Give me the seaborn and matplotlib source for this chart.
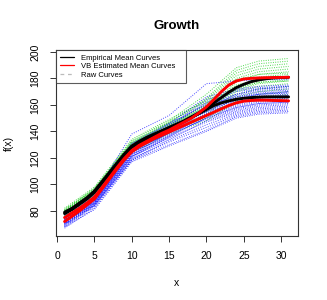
import numpy as np
import pandas as pd
import matplotlib
matplotlib.use("Agg")
import matplotlib.pyplot as plt
from matplotlib.lines import Line2D
import seaborn as sns

# ---------------------------------------------------------------------------
# Data
# ---------------------------------------------------------------------------

x_mean = list(range(1, 32))

emp_mean_1 = [79, 82, 86, 90, 95, 102, 109, 116, 123, 129, 132.5, 135.5, 138, 140.5, 143,
              145.5, 148, 151, 154, 157.5, 161.5, 165.5, 169.5, 173, 175.5, 177.5, 178.8,
              179.7, 180.3, 180.6, 180.8]
emp_mean_2 = [78, 81, 85, 89, 94, 101, 108, 115, 122, 128, 131.5, 134.5, 137.5, 140, 142.5,
              145, 147.5, 150.5, 153.5, 156.5, 159.5, 161.5, 163, 164.2, 165, 165.5, 165.8,
              166, 166, 166, 166]
vb_mean_1 = [75, 78.5, 82, 86, 90.5, 97.5, 105, 112.5, 119.5, 125.5, 129.5, 132.5, 135.5,
             138.5, 141, 144, 147, 150, 154, 158.5, 164, 170, 175, 178, 179.5, 180, 180.3,
             180.5, 180.6, 180.7, 180.8]
vb_mean_2 = [72, 76, 80, 84.5, 89, 96.5, 104, 111.5, 118.5, 124.5, 128.5, 131.5, 134.5, 137,
             139.5, 142, 144.5, 147, 149.5, 152, 154.5, 157, 159.5, 161.5, 162.8, 163.3,
             163.5, 163.5, 163.3, 163.2, 163]

x_raw = [1, 5, 10, 15, 20, 24, 27, 31]

raw_green = [
    [80, 96, 133, 148, 168, 188, 193, 195],
    [78, 94, 130, 146, 165, 186, 191, 193],
    [82, 98, 134, 149, 163, 182, 187, 189],
    [79, 95, 131, 145, 160, 180, 185, 187],
    [77, 93, 128, 143, 158, 177, 183, 185],
    [81, 97, 132, 147, 162, 178, 181, 183],
    [78, 94, 129, 144, 159, 175, 179, 181],
    [76, 92, 127, 141, 155, 172, 177, 179],
    [80, 95, 130, 145, 157, 171, 176, 178],
    [77, 93, 127, 141, 153, 170, 174, 176],
    [79, 94, 128, 143, 155, 168, 172, 174],
    [75, 91, 125, 139, 151, 166, 170, 172],
    [78, 92, 126, 140, 150, 163, 168, 170],
    [76, 90, 124, 138, 148, 162, 166, 168],
    [81, 96, 131, 147, 164, 184, 189, 191],
    [79, 95, 129, 144, 161, 179, 183, 184],
    [77, 94, 128, 142, 156, 174, 179, 180],
    [80, 97, 132, 146, 158, 173, 177, 178],
]

raw_blue = [
    [74, 92, 138, 152, 176, 178, 179, 179],
    [73, 90, 130, 146, 166, 172, 174, 175],
    [72, 89, 128, 144, 164, 171, 173, 174],
    [71, 88, 127, 143, 162, 170, 172, 173],
    [75, 91, 129, 145, 161, 168, 171, 172],
    [70, 86, 125, 141, 159, 167, 170, 171],
    [73, 89, 126, 142, 158, 166, 169, 170],
    [72, 87, 124, 140, 157, 165, 168, 169],
    [69, 85, 122, 139, 156, 164, 167, 168],
    [74, 90, 127, 142, 156, 163, 166, 167],
    [71, 87, 123, 138, 154, 162, 165, 166],
    [76, 93, 128, 143, 155, 161, 164, 165],
    [70, 85, 121, 137, 153, 160, 163, 164],
    [73, 88, 124, 139, 152, 159, 162, 163],
    [68, 84, 120, 136, 151, 158, 161, 162],
    [72, 87, 122, 137, 150, 157, 160, 161],
    [75, 90, 125, 139, 149, 156, 159, 160],
    [69, 83, 119, 134, 148, 155, 158, 159],
    [71, 86, 121, 135, 147, 154, 157, 158],
    [67, 82, 118, 133, 145, 153, 156, 157],
    [70, 84, 119, 132, 143, 152, 155, 156],
    [72, 85, 118, 130, 141, 151, 154, 155],
    [68, 81, 117, 129, 140, 150, 153, 154],
    [74, 89, 126, 141, 158, 168, 172, 174],
    [71, 86, 123, 139, 153, 162, 166, 167],
    [73, 88, 125, 140, 155, 164, 168, 170],
    [77, 94, 131, 146, 160, 166, 168, 169],
    [70, 84, 121, 136, 150, 158, 161, 162],
]


def to_long(curves, group):
    rows = []
    for i, ys in enumerate(curves):
        for xv, yv in zip(x_raw, ys):
            rows.append({"x": xv, "y": yv, "curve": f"{group}{i}", "group": group})
    return rows


raw_df = pd.DataFrame(to_long(raw_green, "g") + to_long(raw_blue, "b"))

# ---------------------------------------------------------------------------
# Plot
# ---------------------------------------------------------------------------

sns.set_theme(style="ticks")
plt.rcParams["font.family"] = ["Liberation Sans", "DejaVu Sans"]
plt.rcParams["text.color"] = "black"
plt.rcParams["axes.labelcolor"] = "black"
plt.rcParams["xtick.color"] = "black"
plt.rcParams["ytick.color"] = "black"

fig = plt.figure(figsize=(3.27, 3.0), dpi=100)
ax = fig.add_axes([0.170, 0.213, 0.740, 0.620])

dots = (0, (1, 1.4))
sns.lineplot(data=raw_df[raw_df.group == "g"], x="x", y="y", units="curve",
             estimator=None, color="#11cc11", lw=0.7, alpha=0.75, ax=ax,
             linestyle=dots, legend=False)
sns.lineplot(data=raw_df[raw_df.group == "b"], x="x", y="y", units="curve",
             estimator=None, color="#1111ff", lw=0.7, alpha=0.75, ax=ax,
             linestyle=dots, legend=False)

for ys in (emp_mean_1, emp_mean_2):
    sns.lineplot(x=x_mean, y=ys, color="black", lw=2.1, ax=ax)
for ys in (vb_mean_1, vb_mean_2):
    sns.lineplot(x=x_mean, y=ys, color="red", lw=2.1, ax=ax)

ax.set_xlim(-0.2, 32.2)
ax.set_ylim(61.0, 201.3)
ax.set_xticks(range(0, 31, 5))
ax.set_yticks(range(80, 201, 20))
ax.tick_params(direction="out", length=4, width=0.7, labelsize=7.5, pad=7,
               color="#333333")
for lab in ax.get_yticklabels():
    lab.set_rotation(90)
    lab.set_va("center")
for sp in ax.spines.values():
    sp.set_visible(True)
    sp.set_color("#333333")
    sp.set_linewidth(0.8)

ax.set_xlabel("x", fontsize=7.5, labelpad=12)
ax.set_ylabel("f(x)", fontsize=7.5, labelpad=12)
ax.set_title("Growth", fontsize=9.5, fontweight="bold", pad=15)

handles = [
    Line2D([], [], color="black", lw=0.9),
    Line2D([], [], color="red", lw=0.9),
    Line2D([], [], color="#bbbbbb", lw=0.9, linestyle=(0, (3, 3))),
]
labels = ["Empirical Mean Curves", "VB Estimated Mean Curves", "Raw Curves"]
leg = ax.legend(handles, labels, loc="upper left", bbox_to_anchor=(0, 1, 0.537, 0),
                mode="expand", fontsize=5.5, frameon=True, fancybox=False,
                borderaxespad=0, handlelength=1.85, handletextpad=0.9,
                borderpad=0.55, labelspacing=0.15)
leg.get_frame().set_edgecolor("#333333")
leg.get_frame().set_linewidth(0.8)

fig.savefig("out.png", dpi=100)
